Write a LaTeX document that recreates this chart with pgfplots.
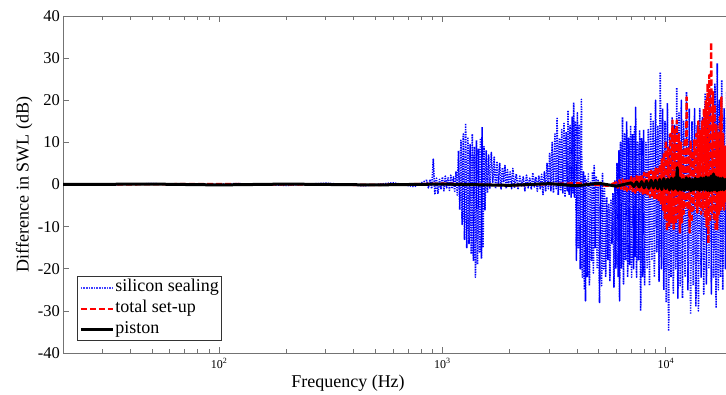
\documentclass[border=0pt]{standalone}
\usepackage{fontspec}
\setmainfont{Liberation Serif}
\usepackage{pgfplots}
\pgfplotsset{compat=1.18}
\begin{document}
\begin{tikzpicture}
\begin{axis}[
  name=ax,
  scale only axis,
  width=670pt, height=337pt,
  xmode=log,
  xmin=20, xmax=20000,
  ymin=-40, ymax=40,
  xtick={100,1000,10000},
  xticklabels={10\textsuperscript{2},10\textsuperscript{3},10\textsuperscript{4}},
  minor xtick={20,30,40,50,60,70,80,90,200,300,400,500,600,700,800,900,2000,3000,4000,5000,6000,7000,8000,9000},
  ytick={-40,-30,-20,-10,0,10,20,30,40},
  yticklabels={-40,-30,-20,-10,0,10,20,30,40},
  tick align=inside,
  major tick length=6.5pt,
  minor tick length=4pt,
  tick style={black!55, line width=0.6pt},
  axis line style={black!55, line width=0.8pt},
  xticklabel style={font=\fontsize{12}{14}\selectfont, anchor=base, inner sep=0pt, yshift=-15pt},
  yticklabel style={font=\fontsize{16.5}{18}\selectfont, anchor=east, inner sep=0pt, xshift=-3pt},
  xlabel={Frequency (Hz)},
  ylabel={Difference in SWL (dB)},
  label style={font=\fontsize{18}{20}\selectfont},
  xlabel style={at={(axis description cs:0.4254,-0.1009)}, anchor=base},
  ylabel style={at={(axis description cs:-0.058,0.5)}, anchor=center},
  legend cell align=left,
  legend style={at={(axis description cs:0.0209,0.0356)}, anchor=south west, draw=black!80, line width=0.6pt, fill=white, font=\fontsize{18}{20}\selectfont, inner xsep=2pt, inner ysep=1.75pt, row sep=2.5pt, nodes={inner sep=1pt, text height=12.5pt, text depth=4pt}},
  legend image code/.code={\draw[#1] (0pt,0pt) -- (32pt,0pt);},
]
\addplot[draw=blue, color=blue, line width=1.6pt, dash pattern=on 1.3pt off 1.2pt, line join=round, legend image post style={draw=blue!75, line width=1.6pt, dash pattern=on 1.6pt off 1pt}] coordinates {
(20,0.1)(30,-0.1)(50,0.2)(80,-0.1)(120,0.2)(200,-0.2)(300,0.3)(450,-0.3)(600,0.4)(750,-0.5)(820,0.6)
(850,1.0)(865,-0.8)(880,1.2)(895,-1.0)(910,6.0)(925,-2.4)(940,1.5)(955,-2.2)(970,1.2)(985,-1.0)(1000,1.8)(1015,-1.5)(1030,2.0)(1045,-0.8)(1060,1.6)(1075,-1.4)(1090,2.2)(1105,-1.0)(1120,1.8)(1135,-1.6)(1150,3.0)(1165,-2.5)(1180,8.0)(1195,-6.0)
(1210,10.5)(1225,-9.5)(1240,12.0)(1255,-13.0)(1270,14.5)(1285,-15.0)(1300,11.0)(1315,-14.0)(1330,9.5)(1345,-16.5)(1360,12.0)(1375,-18.0)(1390,9.0)(1405,-22.0)(1420,10.5)(1435,-19.0)(1450,8.5)(1465,-16.0)(1480,11.0)(1495,-17.6)(1505,13.6)(1520,-15.0)(1535,9.0)(1550,-6.0)(1570,8.0)(1590,-2.0)(1610,7.0)(1630,-1.0)(1655,7.6)(1680,0.5)(1705,6.5)(1730,-1.0)(1755,5.5)(1780,0.0)(1805,5.0)(1830,-1.2)(1855,4.0)(1880,0.5)(1905,4.5)(1930,-1.0)(1955,3.5)(1980,0.0)
(2010,3.0)(2040,-1.0)(2066,3.8)(2100,-0.8)(2140,2.5)(2180,-1.2)(2220,2.0)(2260,-0.5)(2300,1.8)(2340,-1.5)(2380,2.2)(2420,-0.8)(2460,1.5)(2500,-1.2)(2540,2.8)(2580,-0.6)(2620,1.8)(2660,-1.6)(2700,2.0)(2740,-1.0)(2780,2.4)(2820,-2.4)(2860,3.0)(2900,-1.5)(2940,5.0)(2980,-1.0)
(3020,7.6)(3060,-1.5)(3100,10.0)(3140,-2.0)(3190,12.0)(3230,-1.0)(3260,15.7)(3300,-2.5)(3340,11.0)(3380,-1.5)(3420,13.0)(3460,-2.0)(3500,14.5)(3540,-3.0)(3580,12.5)(3620,-1.5)(3650,17.6)(3690,-2.5)(3730,14.0)(3770,-3.0)(3810,16.0)(3840,-2.0)(3870,19.5)(3900,-3.0)(3940,15.0)(3980,-18.0)(4020,17.0)(4060,-15.0)(4100,14.0)(4140,-20.0)(4190,20.2)(4230,-22.0)(4280,3.0)(4320,-25.0)(4350,2.0)(4370,-27.6)(4410,1.0)(4450,-22.0)(4500,2.5)(4550,-24.0)(4600,0.5)(4650,-18.0)(4700,3.0)(4740,-21.0)(4780,4.5)(4830,-15.0)(4880,2.0)(4930,-20.0)(4980,1.0)(5050,-28.0)
(5100,0.5)(5160,-24.0)(5210,2.6)(5260,-20.0)(5320,-1.0)(5380,-22.0)(5440,-3.0)(5500,-18.0)(5560,-4.5)(5620,-23.0)(5680,-3.5)(5740,-14.0)(5800,-2.0)(5860,-24.5)(5920,1.0)(5980,-20.0)(6050,5.0)(6120,-22.0)(6170,8.0)(6210,-27.6)(6270,10.0)(6330,-20.0)(6400,16.0)(6470,-23.6)(6540,12.0)(6610,-18.0)(6680,15.0)(6750,-22.0)(6820,11.0)(6890,-19.0)(6960,14.0)(7030,-22.0)(7100,12.0)(7180,-20.0)(7250,14.0)(7290,-17.0)(7330,18.3)(7400,-22.0)(7480,10.0)(7560,-18.0)(7640,12.9)(7720,-30.0)(7800,11.0)(7880,-22.0)(7960,13.0)(8040,-24.0)
(8150,10.0)(8250,-20.0)(8350,13.0)(8450,-24.0)(8560,17.0)(8670,-18.0)(8780,15.0)(8890,-22.0)(9000,20.0)(9110,-16.0)(9220,14.0)(9330,-23.0)(9450,26.7)(9560,-20.0)(9680,18.0)(9800,-25.0)(9920,15.0)(10050,-28.0)(10170,19.3)(10300,-34.8)(10420,12.0)(10550,-22.0)(10680,16.0)(10810,-26.0)(10940,14.0)(11070,-20.0)(11200,23.0)(11330,-27.0)(11460,17.0)(11600,-24.0)(11740,20.0)(11880,-27.0)
(12020,15.0)(12200,-22.0)(12380,22.0)(12560,-25.0)(12740,18.0)(12920,-30.8)(13100,15.0)(13280,-24.0)(13460,18.0)(13640,-29.0)(13820,14.0)(14000,-30.0)(14200,18.0)(14400,-22.0)(14600,16.0)(14800,-26.0)(15000,21.7)(15200,-23.6)(15400,17.0)(15600,-20.0)(15800,22.0)(16000,-26.0)(16200,19.0)(16400,-22.0)(16600,24.0)(16800,-29.3)(17000,28.8)(17200,-25.0)(17400,20.0)(17600,-22.0)(17800,24.8)(18000,-25.0)(18250,18.0)(18500,-20.0)(18750,22.0)(19000,-24.0)(19250,17.0)(19500,-22.0)(19750,20.0)(20000,-18.0)
};
\addlegendentry{silicon sealing}
\addplot[draw=red, color=red, line width=2.4pt, dash pattern=on 6pt off 3pt, line join=round] coordinates {
(20,0)(100,0.1)(500,-0.1)(1000,0.2)(2000,-0.2)(4000,0.3)(5500,-0.3)(6000,0.5)
(6100,-0.8)(6200,1.0)(6300,-1.0)(6400,1.2)(6500,-1.2)(6600,1.0)(6700,-1.5)(6800,1.5)(6900,-1.2)(7000,1.8)(7100,-1.6)(7200,1.5)(7300,-2.0)(7400,2.0)(7500,-1.8)(7600,2.2)(7700,-2.0)(7800,2.5)(7900,-2.2)(8000,2.8)
(8100,-2.5)(8200,2.6)(8300,-2.8)(8400,3.0)(8500,-3.0)(8600,3.3)(8700,-2.6)(8800,3.0)(8900,-3.5)(9000,3.8)(9100,-3.2)(9200,4.2)(9300,-4.0)(9400,4.7)(9500,-4.5)(9600,6.0)(9700,-6.0)(9800,7.5)(9900,-8.0)(10000,10.5)
(10120,-11.0)(10240,8.8)(10360,-10.0)(10480,12.0)(10600,-9.0)(10720,15.2)(10840,-10.5)(10960,13.0)(11080,-9.3)(11200,15.2)(11320,-8.0)(11440,12.0)(11560,-11.4)(11680,10.0)(11800,-9.0)(11920,8.0)(12040,-7.0)(12160,11.0)(12280,-5.0)(12400,20.7)(12520,-6.0)(12650,9.0)(12780,-11.4)(12910,10.5)(13040,-9.0)(13170,8.0)(13300,-6.0)(13430,10.5)(13560,-5.0)(13700,12.0)(13840,-6.7)(13980,15.0)(14120,-5.0)(14260,13.0)(14400,-7.0)(14540,15.0)(14680,-6.0)(14820,18.0)(14960,-8.0)(15100,20.0)(15240,-10.0)(15380,24.0)(15520,-14.0)(15660,26.0)(15820,-9.0)(15970,33.8)(16100,-7.0)(16250,22.0)(16400,-8.6)(16550,19.0)(16700,-11.0)(16850,14.0)(17000,-10.6)(17150,12.0)(17300,-7.0)(17450,16.0)(17600,-6.0)(17750,20.7)(17900,-5.0)(18050,12.0)(18250,-6.0)(18450,9.0)(18650,-4.0)(18850,8.0)(19050,-5.0)(19250,7.0)(19450,-4.5)(19650,8.0)(19850,-4.0)(20000,6.0)
};
\addlegendentry{total set-up}
\addplot[draw=black, color=black, line width=3pt, line join=round] coordinates {
(20,0)(50,0.1)(100,-0.1)(200,0.1)(500,-0.1)(1000,0.1)(2000,-0.2)(3000,0.2)(4000,-0.3)(5000,0.3)(6000,-0.4)(7000,0.4)
(7200,-0.5)(7400,0.6)(7600,-0.6)(7800,0.7)(8000,-0.8)(8200,0.8)(8400,-0.9)(8600,1.0)(8800,-0.8)(9000,1.0)(9200,-1.0)(9400,1.2)(9600,-1.2)(9800,1.4)(10000,-1.0)(10200,1.3)(10400,-1.3)(10600,1.5)(10800,-1.2)(11000,1.6)(11150,-1.0)(11250,4.0)(11350,-1.4)(11550,1.5)(11750,-1.3)(11950,1.2)(12150,-1.4)(12350,1.6)(12550,-1.2)(12750,1.4)(12950,-1.5)(13150,1.2)(13350,-1.3)(13550,1.5)(13750,-1.2)(13950,1.3)(14150,-1.4)(14350,1.6)(14550,-1.3)(14750,1.5)(14950,-1.2)(15150,1.8)(15350,-1.4)(15550,1.6)(15750,-1.5)(15950,2.0)(16150,-1.4)(16350,2.5)(16550,-1.2)(16750,1.8)(16950,-1.5)(17150,1.6)(17350,-1.3)(17550,1.4)(17750,-1.2)(17950,1.5)(18200,-1.3)(18450,1.2)(18700,-1.0)(18950,1.3)(19200,-1.1)(19450,1.0)(19700,-1.2)(20000,1.0)
};
\addlegendentry{piston}
\end{axis}
\pgfresetboundingbox
\path[use as bounding box] ([shift={(-63pt,-41pt)}]ax.south west) rectangle ([shift={(663pt,353pt)}]ax.south west);
\end{tikzpicture}
\end{document}
